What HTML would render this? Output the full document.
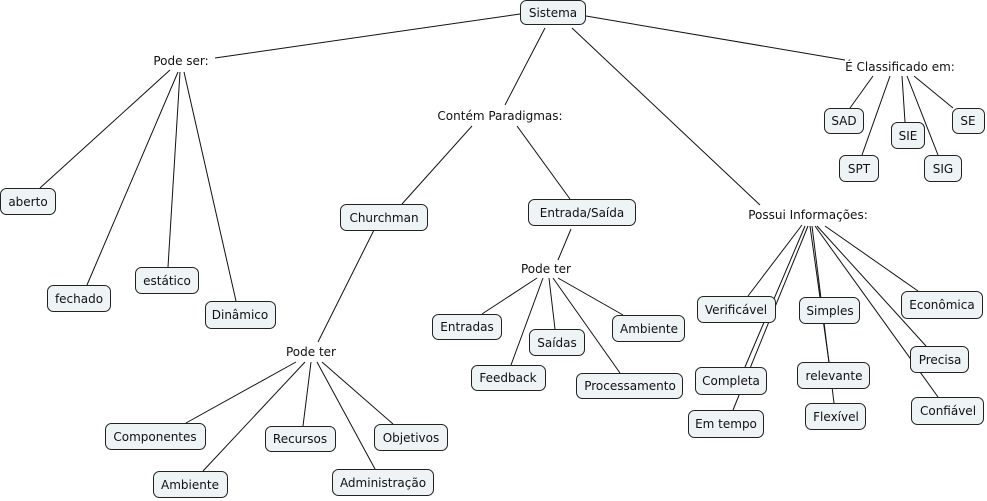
<!DOCTYPE html>
<html><head><meta charset="utf-8"><style>
html,body{margin:0;padding:0;background:#fff;}
svg{display:block;font-family:"DejaVu Sans","Liberation Sans",sans-serif;font-size:12px;}
rect{fill:#eef3f5;stroke:#222;stroke-width:1;}
line{stroke:#111;stroke-width:1;}
text{fill:#111;text-anchor:middle;dominant-baseline:central;}
</style></head><body>
<svg width="987" height="501" viewBox="0 0 987 501" xmlns="http://www.w3.org/2000/svg">
<g>
<line x1="520" y1="14" x2="215" y2="58"/>
<line x1="545" y1="28" x2="505" y2="105"/>
<line x1="572" y1="28" x2="760" y2="205"/>
<line x1="586" y1="16" x2="845" y2="60"/>
<line x1="170" y1="70" x2="40" y2="188"/>
<line x1="178" y1="72" x2="87" y2="285"/>
<line x1="180" y1="72" x2="168" y2="267"/>
<line x1="184" y1="72" x2="236" y2="301"/>
<line x1="472" y1="126" x2="402" y2="204"/>
<line x1="517" y1="126" x2="570" y2="199"/>
<line x1="374" y1="230" x2="318" y2="342"/>
<line x1="296" y1="362" x2="186" y2="423"/>
<line x1="305" y1="362" x2="203" y2="471"/>
<line x1="311" y1="362" x2="303" y2="426"/>
<line x1="317" y1="362" x2="375" y2="469"/>
<line x1="322" y1="362" x2="393" y2="424"/>
<line x1="571" y1="229" x2="558" y2="260"/>
<line x1="537" y1="278" x2="482" y2="314"/>
<line x1="543" y1="278" x2="511" y2="365"/>
<line x1="549" y1="278" x2="555" y2="329"/>
<line x1="553" y1="278" x2="620" y2="373"/>
<line x1="558" y1="278" x2="623" y2="315"/>
<line x1="873" y1="76" x2="850" y2="108"/>
<line x1="890" y1="76" x2="862" y2="155"/>
<line x1="902" y1="76" x2="905" y2="122"/>
<line x1="907" y1="76" x2="938" y2="155"/>
<line x1="914" y1="76" x2="953" y2="108"/>
<line x1="802" y1="225" x2="748" y2="296"/>
<line x1="805" y1="226" x2="745" y2="367"/>
<line x1="808" y1="226" x2="733" y2="410"/>
<line x1="810" y1="226" x2="829" y2="362"/>
<line x1="812" y1="226" x2="834" y2="403"/>
<line x1="815" y1="226" x2="938" y2="397"/>
<line x1="817" y1="226" x2="926" y2="346"/>
<line x1="825" y1="226" x2="918" y2="291"/>
</g>
<g>
<rect x="520.5" y="0.5" width="65" height="24" rx="6"/><text x="553" y="13">Sistema</text>
<rect x="0.5" y="188.5" width="55" height="26" rx="6"/><text x="28" y="202">aberto</text>
<rect x="47.5" y="285.5" width="63" height="26" rx="6"/><text x="79" y="299">fechado</text>
<rect x="135.5" y="267.5" width="63" height="26" rx="6"/><text x="167" y="281">estático</text>
<rect x="205.5" y="301.5" width="70" height="27" rx="6"/><text x="240" y="315">Dinâmico</text>
<rect x="340.5" y="204.5" width="87" height="26" rx="6"/><text x="384" y="218">Churchman</text>
<rect x="528.5" y="199.5" width="107" height="26" rx="6"/><text x="582" y="213">Entrada/Saída</text>
<rect x="432.5" y="314.5" width="69" height="25" rx="6"/><text x="467" y="327">Entradas</text>
<rect x="529.5" y="329.5" width="55" height="26" rx="6"/><text x="557" y="343">Saídas</text>
<rect x="612.5" y="315.5" width="72" height="26" rx="6"/><text x="649" y="329">Ambiente</text>
<rect x="471.5" y="365.5" width="74" height="25" rx="6"/><text x="508" y="378">Feedback</text>
<rect x="576.5" y="373.5" width="106" height="25" rx="6"/><text x="630" y="386">Processamento</text>
<rect x="105.5" y="423.5" width="100" height="26" rx="6"/><text x="155" y="437">Componentes</text>
<rect x="265.5" y="426.5" width="70" height="25" rx="6"/><text x="300" y="439">Recursos</text>
<rect x="374.5" y="424.5" width="73" height="26" rx="6"/><text x="411" y="438">Objetivos</text>
<rect x="153.5" y="471.5" width="74" height="26" rx="6"/><text x="190" y="485">Ambiente</text>
<rect x="332.5" y="469.5" width="101" height="26" rx="6"/><text x="383" y="483">Administração</text>
<rect x="824.5" y="108.5" width="39" height="25" rx="6"/><text x="844" y="121">SAD</text>
<rect x="952.5" y="108.5" width="32" height="25" rx="6"/><text x="968" y="121">SE</text>
<rect x="891.5" y="122.5" width="33" height="26" rx="6"/><text x="908" y="136">SIE</text>
<rect x="839.5" y="155.5" width="39" height="26" rx="6"/><text x="859" y="169">SPT</text>
<rect x="924.5" y="155.5" width="37" height="26" rx="6"/><text x="943" y="169">SIG</text>
<rect x="697.5" y="296.5" width="78" height="26" rx="6"/><text x="736" y="310">Verificável</text>
<rect x="799.5" y="297.5" width="60" height="26" rx="6"/><text x="830" y="311">Simples</text>
<rect x="901.5" y="291.5" width="81" height="27" rx="6"/><text x="942" y="305">Econômica</text>
<rect x="695.5" y="367.5" width="71" height="27" rx="6"/><text x="731" y="381">Completa</text>
<rect x="797.5" y="362.5" width="72" height="26" rx="6"/><text x="834" y="376">relevante</text>
<rect x="910.5" y="346.5" width="58" height="26" rx="6"/><text x="940" y="360">Precisa</text>
<rect x="688.5" y="410.5" width="75" height="27" rx="6"/><text x="726" y="424">Em tempo</text>
<rect x="805.5" y="403.5" width="60" height="26" rx="6"/><text x="836" y="417">Flexível</text>
<rect x="911.5" y="397.5" width="72" height="27" rx="6"/><text x="948" y="411">Confiável</text>
</g>
<g>
<text x="181" y="61">Pode ser:</text>
<text x="500" y="116">Contém Paradigmas:</text>
<text x="546" y="269">Pode ter</text>
<text x="311" y="352">Pode ter</text>
<text x="900" y="67">É Classificado em:</text>
<text x="808" y="215">Possui Informações:</text>
</g>
</svg>
</body></html>
